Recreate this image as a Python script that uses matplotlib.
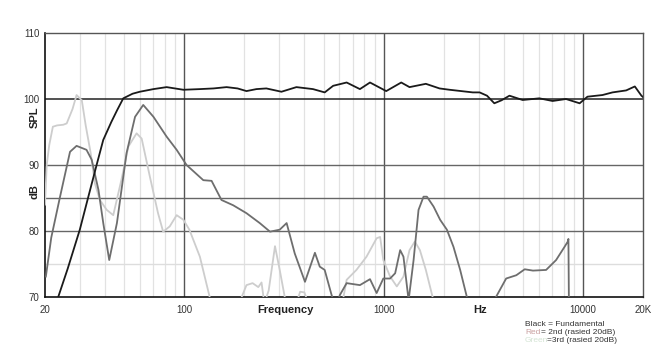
import matplotlib
matplotlib.use("Agg")
import matplotlib.pyplot as plt

plt.rcParams['font.family'] = ['Liberation Sans', 'DejaVu Sans']

# Fundamental (black)
fund_f = [23.3, 26, 29.9, 33, 36.3, 39.2, 43, 46, 49.4, 55, 59.8, 70, 81.5, 98.9, 119.7, 140, 162.9,
          185, 205, 230, 258, 307, 365, 442, 506, 558, 652, 760, 854, 1030, 1225, 1348, 1628, 1907,
          2140, 2800, 3030, 3300, 3590, 3900, 4276, 4980, 6040, 7040, 8220, 9620, 10530, 12520,
          14060, 16460, 18200, 19640, 20000]
fund_db = [70, 74.3, 80.2, 85.2, 90, 93.8, 96.5, 98.3, 100.1, 100.8, 101.1, 101.5, 101.8, 101.4, 101.5,
           101.6, 101.8, 101.6, 101.2, 101.5, 101.6, 101.1, 101.8, 101.5, 101.0, 102.0, 102.5, 101.5,
           102.5, 101.2, 102.5, 101.8, 102.3, 101.6, 101.4, 101.0, 101.0, 100.5, 99.35, 99.8, 100.5,
           99.85, 100.1, 99.7, 100.0, 99.35, 100.35, 100.6, 101.0, 101.3, 101.9, 100.5, 100.3]

# 2nd harmonic (raised 20 dB)
h2_f = [20.2, 21.5, 23.8, 26.7, 28.8, 32.3, 34.3, 37.1, 39.2, 42.0, 45.9, 51.3, 56.6, 62.2, 70, 81.5,
        91.5, 102.6, 124.5, 137, 153.6, 175.8, 205, 239, 269, 301, 326, 358, 403, 452, 478, 506, 548,
        575, 603, 652, 760, 854, 922, 996, 1077, 1142, 1210, 1257, 1334, 1413, 1496, 1585, 1648, 1780,
        1920, 2076, 2240, 2420, 2615, 2800, 3400, 3660, 4116, 4630, 5100, 5610, 6530, 7330, 8080,
        8390, 8450, 8520]
h2_db = [73.1, 79, 85.2, 92.0, 92.9, 92.3, 90.8, 86.2, 81.2, 75.6, 81.2, 91.8, 97.3, 99.1, 97.3, 94.3,
         92.3, 90.0, 87.7, 87.6, 84.7, 83.9, 82.7, 81.2, 79.9, 80.2, 81.2, 76.6, 72.3, 76.7, 74.6, 74.1,
         70.3, 68.5, 70.3, 72.1, 71.8, 72.7, 70.6, 72.8, 72.8, 73.6, 77.1, 76.1, 69.5, 75.6, 83.2, 85.2,
         85.2, 83.7, 81.7, 80.2, 77.6, 74.1, 70.0, 67, 67, 70, 72.8, 73.3, 74.2, 74.0, 74.1, 75.6, 77.6,
         78.4, 78.8, 65]

# 3rd harmonic (raised 20 dB)
h3_f = [20, 20.4, 21.0, 21.9, 23, 24.7, 25.7, 27.5, 28.8, 30.6, 32, 33.9, 35.6, 37.7, 40.8, 44.0, 48.3,
        52.4, 57.6, 61.1, 67.2, 73.8, 78.3, 84.5, 91.5, 98.9, 106, 119.7, 134, 150, 185, 194, 205, 220,
        235, 244, 252, 265, 285, 301, 319, 330, 365, 381, 400, 420, 500, 620, 652, 730, 820, 922, 960,
        996, 1077, 1164, 1257, 1348, 1433, 1520, 1628, 1760, 1850]
h3_db = [84, 90, 93, 95.8, 96.0, 96.1, 96.3, 98.5, 100.6, 99.8, 96, 91.8, 87.2, 84.7, 83.2, 82.4, 87.7,
         92.8, 94.8, 94.0, 88.2, 82.7, 79.9, 80.7, 82.4, 81.7, 80.2, 76.1, 70, 66, 66, 70, 71.8, 72.1,
         71.5, 72.2, 69, 71, 77.7, 74.1, 70, 68, 69, 70.8, 70.7, 69, 66, 69, 72.6, 74.1, 76.1, 78.9,
         79.1, 75.6, 73.1, 71.6, 73.1, 77.1, 78.4, 77.1, 74.1, 70, 67]

xticks = [20, 100, 1000, 10000, 20000]
xtick_labels = ['20', '100', '1000', '10000', '20K']
yticks = [70, 80, 90, 100, 110]
minor_x = [30, 40, 50, 60, 70, 80, 90, 200, 300, 400, 500, 600, 700, 800, 900,
           2000, 3000, 4000, 5000, 6000, 7000, 8000, 9000]

fig = plt.figure(figsize=(6.54, 3.47), dpi=100)
ax = fig.add_axes([45 / 654, 50 / 347, 598 / 654, 264 / 347])
ax.set_xscale('log')
ax.set_xlim(20, 20000)
ax.set_ylim(70, 110)

# grid
for f in minor_x:
    ax.axvline(f, color='#e2e2e2', lw=0.9, zorder=1)
for f in [100, 1000, 10000]:
    ax.axvline(f, color='#555555', lw=1.0, zorder=2)
ax.axhline(75, color='#dddddd', lw=1.0, zorder=1)
for y in [80, 85, 90]:
    ax.axhline(y, color='#666666', lw=1.0, zorder=2)
ax.axhline(100, color='#222222', lw=1.1, zorder=2)

ax.plot(h3_f, h3_db, color='#cdcdcd', lw=1.3, zorder=3)
ax.plot(h2_f, h2_db, color='#6e6e6e', lw=1.3, zorder=4)
ax.plot(fund_f, fund_db, color='#1a1a1a', lw=1.3, zorder=5)

ax.set_xticks(xticks)
ax.set_xticklabels(xtick_labels)
ax.set_xticks([], minor=True)
ax.set_yticks(yticks)
ax.tick_params(axis='both', length=0, labelsize=7, labelcolor='#333333')
ax.tick_params(axis='x', pad=6)
ax.tick_params(axis='y', pad=4)

for s in ['left', 'bottom']:
    ax.spines[s].set_color('#111111')
    ax.spines[s].set_linewidth(1.2)
for s in ['top', 'right']:
    ax.spines[s].set_color('#555555')
    ax.spines[s].set_linewidth(1.0)

fig.text(35 / 654, 1 - 117 / 347, 'SPL', rotation=90, fontsize=8, fontweight='bold',
         ha='center', va='center', color='#222222')
fig.text(35 / 654, 1 - 192 / 347, 'dB', rotation=90, fontsize=8, fontweight='bold',
         ha='center', va='center', color='#222222')
fig.text(285 / 654, 1 - 310 / 347, 'Frequency', fontsize=8, fontweight='bold',
         ha='center', va='center', color='#222222')
fig.text(480 / 654, 1 - 310 / 347, 'Hz', fontsize=8, fontweight='bold',
         ha='center', va='center', color='#222222')

lx = 525 / 654
fig.text(lx, 1 - 325 / 347, 'Black = Fundamental', fontsize=6, color='#333333', va='center')
t = fig.text(lx, 1 - 333 / 347, 'Red', fontsize=6, color='#c9a0a0', va='center')
fig.text(lx + 16 / 654, 1 - 333 / 347, '= 2nd (rasied 20dB)', fontsize=6, color='#333333', va='center')
fig.text(lx, 1 - 341 / 347, 'Green', fontsize=6, color='#d4e4d4', va='center')
fig.text(lx + 22 / 654, 1 - 341 / 347, '=3rd (rasied 20dB)', fontsize=6, color='#333333', va='center')

fig.savefig('out.png', dpi=100)
